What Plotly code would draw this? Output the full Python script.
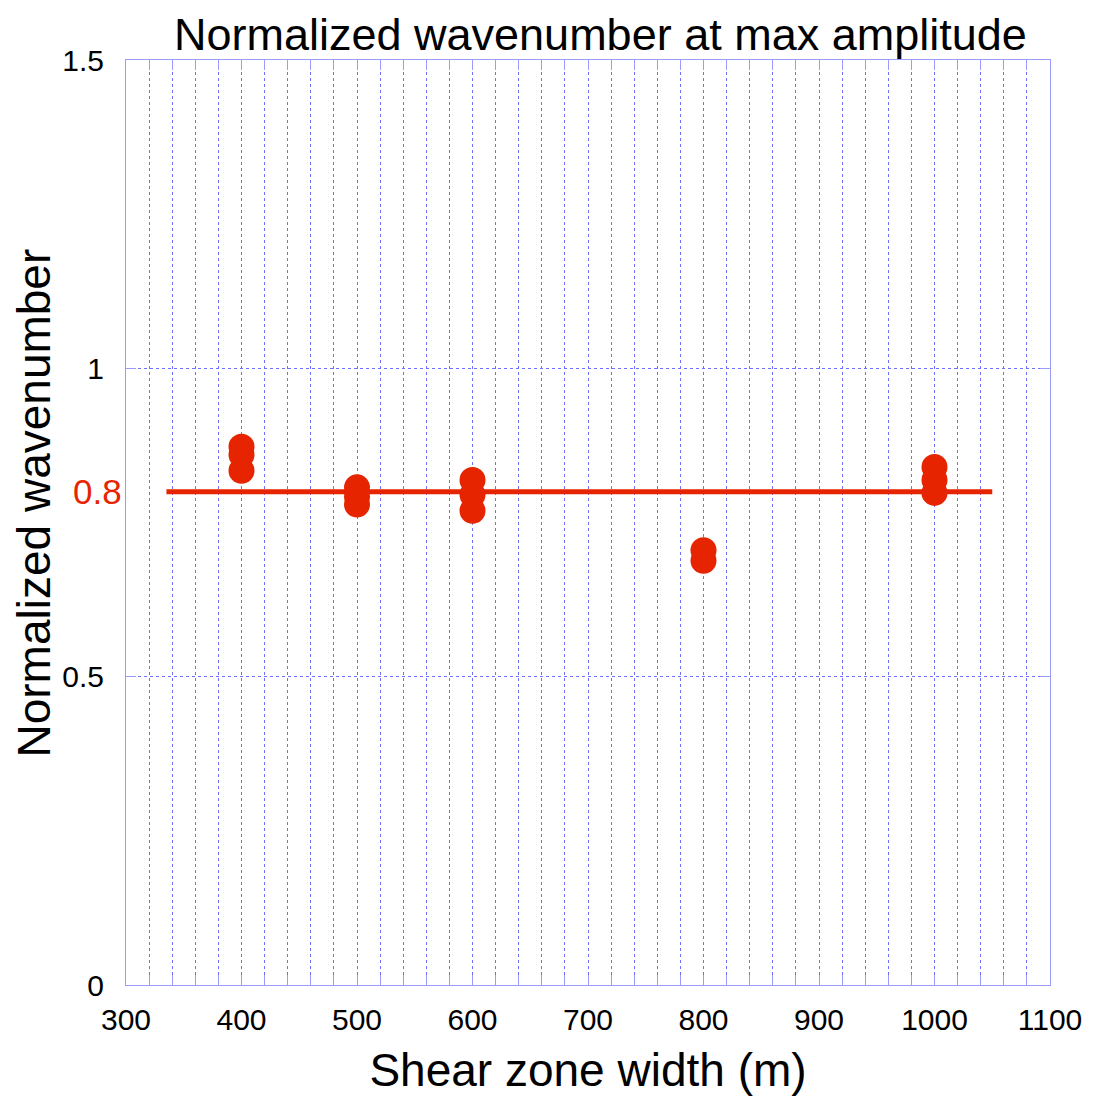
import plotly.graph_objects as go

# Data
widths = [400, 400, 400, 500, 500, 500, 600, 600, 600, 800, 800, 1000, 1000, 1000]
wavenumbers = [0.873, 0.86, 0.834, 0.807, 0.792, 0.779, 0.819, 0.795, 0.769, 0.705, 0.688, 0.840, 0.819, 0.798]
fit_x = [335, 1050]
fit_y = [0.8, 0.8]
fit_label = "0.8"
x_ticks = [300, 400, 500, 600, 700, 800, 900, 1000, 1100]
y_ticks = [0, 0.5, 1, 1.5]
y_tick_text = ["0", "0.5", "1", "1.5"]

RED = "#e62400"
AXIS = "#9a9aff"
GRID = "#7070ff"
FONT = "Liberation Sans, Arial, Helvetica, sans-serif"

fig = go.Figure()
fig.add_trace(go.Scatter(
    x=fit_x, y=fit_y, mode="lines",
    line=dict(color=RED, width=5), showlegend=False, hoverinfo="skip",
))
fig.add_trace(go.Scatter(
    x=widths, y=wavenumbers, mode="markers",
    marker=dict(color=RED, size=26, line=dict(width=0)), showlegend=False,
))

fig.add_annotation(
    x=0, xref="paper", y=fit_y[0], yref="y", text=fit_label,
    showarrow=False, xanchor="right", xshift=-2,
    font=dict(family=FONT, size=35, color=RED),
)
# y-axis title (placed as annotation to match its slightly raised position)
fig.add_annotation(
    x=0, xref="paper", y=0.5, yref="paper", text="Normalized wavenumber",
    textangle=-90, showarrow=False, xanchor="center", yanchor="middle",
    xshift=-93, yshift=19,
    font=dict(family=FONT, size=46, color="black"),
)

fig.update_layout(
    width=1093, height=1102,
    margin=dict(l=118, r=51, t=52, b=125),
    plot_bgcolor="white", paper_bgcolor="white",
    title=dict(text="Normalized wavenumber at max amplitude", x=0.542, xanchor="center",
               y=0.976, yref="container", yanchor="middle",
               font=dict(family=FONT, size=45, color="black")),
    font=dict(family=FONT, color="black"),
)

fig.update_xaxes(
    range=[300, 1100], tickvals=x_ticks, ticktext=[str(v) for v in x_ticks],
    tickfont=dict(size=30, family=FONT, color="black"),
    ticklabelstandoff=8,
    showline=True, linecolor=AXIS, linewidth=1, mirror="ticks",
    ticks="inside", ticklen=10, tickcolor=AXIS, tickwidth=1,
    showgrid=True, gridcolor=GRID, griddash="dot", gridwidth=1,
    minor=dict(dtick=20, tick0=300, showgrid=True, gridcolor=GRID, griddash="dot",
               gridwidth=1, ticks="inside", ticklen=10, tickcolor=AXIS),
    zeroline=False,
    title=dict(text="Shear zone width (m)", font=dict(size=46, family=FONT, color="black"), standoff=18),
)
fig.update_yaxes(
    range=[0, 1.5], tickvals=y_ticks, ticktext=y_tick_text,
    tickfont=dict(size=30, family=FONT, color="black"),
    showline=True, linecolor=AXIS, linewidth=1, mirror="ticks",
    ticks="inside", ticklen=10, tickcolor=AXIS, tickwidth=1,
    ticklabelstandoff=15,
    showgrid=True, gridcolor=GRID, griddash="dot", gridwidth=1,
    zeroline=False,
)

fig.write_html("out.html")
